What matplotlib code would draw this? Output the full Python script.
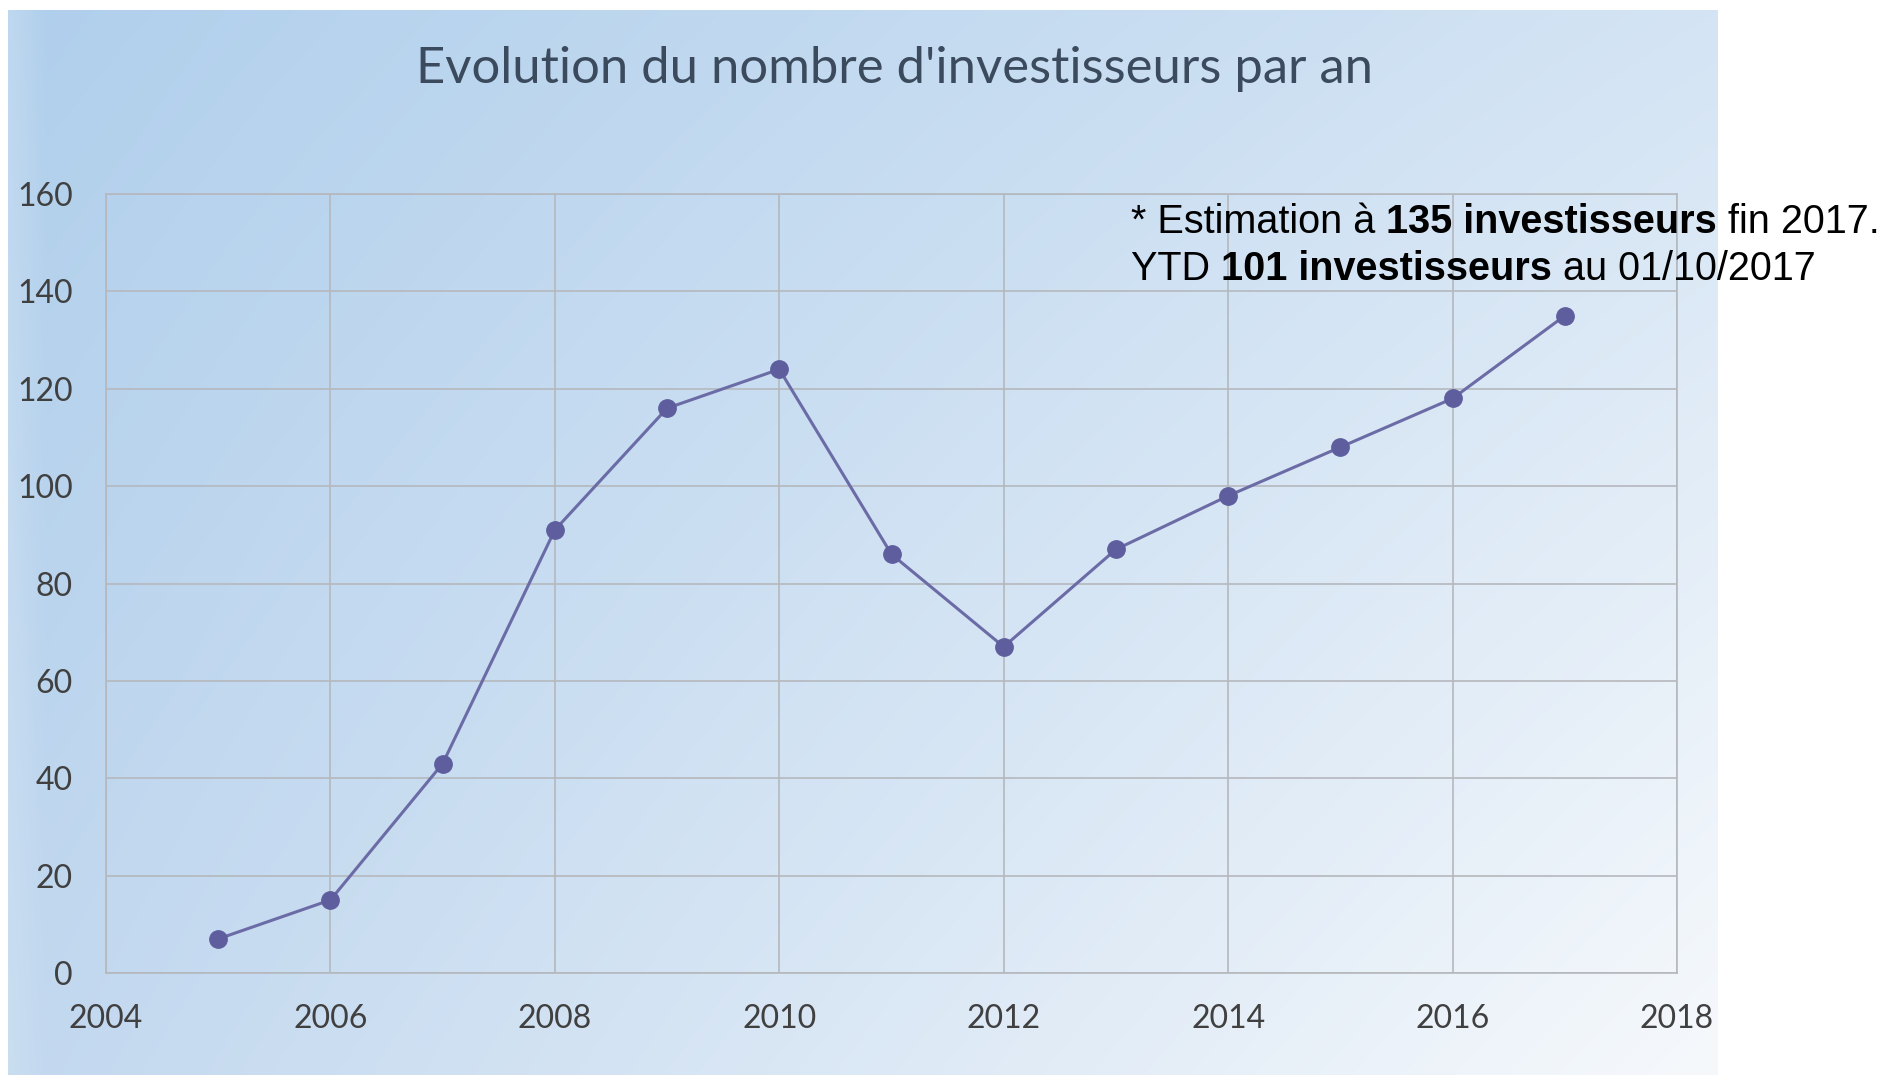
import matplotlib.pyplot as plt
import numpy as np

# data
years = [2005, 2006, 2007, 2008, 2009, 2010, 2011, 2012, 2013, 2014, 2015, 2016, 2017]
investisseurs = [7, 15, 43, 91, 116, 124, 86, 67, 87, 98, 108, 118, 135]
x_ticks = [2004, 2006, 2008, 2010, 2012, 2014, 2016, 2018]
y_ticks = [0, 20, 40, 60, 80, 100, 120, 140, 160]

title = "Evolution du nombre d'investisseurs par an"
note_lines = [
    [("* Estimation à ", "normal"), ("135 investisseurs", "bold"), (" fin 2017.", "normal")],
    [("YTD ", "normal"), ("101 investisseurs", "bold"), (" au 01/10/2017", "normal")],
]

W, H = 1893, 1075
fig = plt.figure(figsize=(W / 100, H / 100), dpi=100)
fig.patch.set_facecolor('white')

# gradient background panel
bg = fig.add_axes([8 / W, 0, (1718 - 8) / W, 1 - 10 / H])
bg.set_axis_off()
tl = np.array([176, 207, 236]) / 255
tr = np.array([212, 228, 244]) / 255
bl = np.array([194, 216, 239]) / 255
br = np.array([246, 249, 252]) / 255
u = np.linspace(0, 1, 300)[None, :, None]
v = np.linspace(0, 1, 200)[:, None, None]
img = (1 - v) * ((1 - u) * tl + u * tr) + v * ((1 - u) * bl + u * br)
# lighter strip on the far left edge
edge = np.clip(1 - np.linspace(0, 1, 300) / 0.02, 0, 1)[None, :, None] * 0.35
img = img * (1 - edge) + edge * np.array([0.85, 0.91, 0.96])
bg.imshow(img, aspect='auto', extent=[0, 1, 0, 1], interpolation='bicubic')

ax = fig.add_axes([106 / W, 1 - 973 / H, (1677 - 106) / W, (973 - 194) / H])
ax.patch.set_alpha(0)
ax.plot(years, investisseurs, color='#6b6ba6', lw=2.2, marker='o', markersize=12.5,
        markerfacecolor='#5e5e9e', markeredgecolor='#5e5e9e', zorder=3)
ax.set_xlim(2004, 2018)
ax.set_ylim(0, 160)
ax.set_xticks(x_ticks)
ax.set_yticks(y_ticks)
ax.grid(True, color='#b5b8bd', lw=1.2)
for s in ax.spines.values():
    s.set_color('#b5b8bd')
    s.set_linewidth(1.2)
ax.tick_params(length=0, labelsize=23, labelcolor='#404040')
ax.tick_params(axis='y', pad=24)
ax.tick_params(axis='x', pad=22)
for lab in ax.get_xticklabels() + ax.get_yticklabels():
    lab.set_family(['Lato', 'DejaVu Sans'])

fig.text(894 / W, 1 - 69 / H, title, ha='center', va='center', fontsize=36.5,
         color='#3b4a5c', family=['Lato', 'DejaVu Sans'])

# note with mixed bold parts, placed piece by piece
renderer = fig.canvas.get_renderer()
line_y = [222, 269]
for parts, yy in zip(note_lines, line_y):
    x = 1131
    for txt, w in parts:
        t = fig.text(x / W, 1 - yy / H, txt, ha='left', va='center', fontsize=28.5,
                     fontweight=w, color='black', family=['Liberation Sans', 'DejaVu Sans'])
        bb = t.get_window_extent(renderer)
        x = bb.x1

fig.savefig('out.png', dpi=100)
